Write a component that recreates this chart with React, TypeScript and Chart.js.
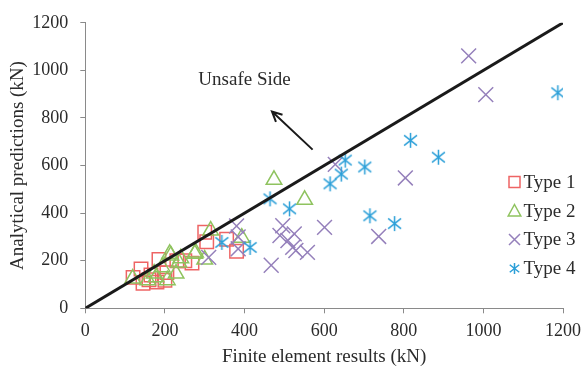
import React, { useEffect, useRef } from 'react';
import { Chart, registerables } from 'chart.js';

Chart.register(...registerables);

// ---- data ----
const TYPE1_X = [120, 140, 145, 160, 165, 180, 185, 200, 205, 230, 250, 268, 300, 305, 355, 380];
const TYPE1_Y = [130, 165, 105, 120, 140, 110, 205, 118, 150, 200, 200, 190, 320, 280, 290, 240];

const TYPE2_X = [119, 157, 173, 178, 193, 206, 212, 215, 228, 235, 240, 275, 277, 300, 315, 393, 474, 551];
const TYPE2_Y = [125, 118, 146, 130, 173, 118, 229, 222, 146, 192, 210, 229, 235, 205, 327, 297, 540, 456];

const TYPE3_X = [310, 380, 384, 384, 467, 489, 496, 509, 521, 525, 529, 558, 601, 628, 737, 804, 963, 1006];
const TYPE3_Y = [214, 346, 300, 250, 181, 306, 347, 285, 256, 313, 243, 235, 340, 605, 302, 548, 1061, 898];

const TYPE4_X = [343, 414, 464, 513, 615, 643, 653, 702, 715, 777, 817, 887, 1187];
const TYPE4_Y = [277, 256, 460, 418, 523, 564, 623, 594, 389, 356, 706, 635, 906];

const SERIES_NAMES = ['Type 1', 'Type 2', 'Type 3', 'Type 4'];
const LINE_X = [0, 1200];
const LINE_Y = [0, 1200];
const AXIS_MIN = 0;
const AXIS_MAX = 1200;
const AXIS_STEP = 200;

const X_TITLE = 'Finite element results (kN)';
const Y_TITLE = 'Analytical predictions (kN)';
const NOTE_TEXT = 'Unsafe Side';
const NOTE_POS = [400, 961];
const ARROW_FROM = [571, 667];
const ARROW_TO = [469, 827];

// ---- styles ----
const FONT = "'Liberation Serif', 'Times New Roman', serif";
const TEXT_COLOR = '#2b2b2b';
const AXIS_COLOR = '#8a8a8a';
const C1 = '#ee6464';
const C2 = '#8fc35f';
const C3 = '#9580bb';
const C4 = '#2b9fd8';

function makeAsterisk(size: number, color: string): HTMLCanvasElement {
  const c = document.createElement('canvas');
  c.width = size;
  c.height = size;
  const g = c.getContext('2d')!;
  const m = size / 2;
  const r = size / 2 - 1;
  g.strokeStyle = color;
  g.lineWidth = 1.5;
  g.beginPath();
  g.moveTo(m, m - r);
  g.lineTo(m, m + r);
  const dx = r * 0.86;
  const dy = r * 0.68;
  g.moveTo(m - dx, m - dy);
  g.lineTo(m + dx, m + dy);
  g.moveTo(m - dx, m + dy);
  g.lineTo(m + dx, m - dy);
  g.stroke();
  return c;
}

const toPts = (xs: number[], ys: number[]) => xs.map((x, i) => ({ x, y: ys[i] }));

export default function App() {
  const ref = useRef<HTMLCanvasElement | null>(null);

  useEffect(() => {
    if (!ref.current) return;
    const star = makeAsterisk(17, C4);
    const starSmall = makeAsterisk(13, C4);

    const overlay = {
      id: 'overlay',
      afterDatasetsDraw(chart: any) {
        const { ctx, scales, chartArea } = chart;
        const xs = scales.x;
        const ys = scales.y;
        ctx.save();
        // annotation text
        ctx.font = `19px ${FONT}`;
        ctx.fillStyle = TEXT_COLOR;
        ctx.textAlign = 'center';
        ctx.textBaseline = 'middle';
        ctx.fillText(NOTE_TEXT, xs.getPixelForValue(NOTE_POS[0]), ys.getPixelForValue(NOTE_POS[1]));
        // arrow
        const x0 = xs.getPixelForValue(ARROW_FROM[0]);
        const y0 = ys.getPixelForValue(ARROW_FROM[1]);
        const x1 = xs.getPixelForValue(ARROW_TO[0]);
        const y1 = ys.getPixelForValue(ARROW_TO[1]);
        ctx.strokeStyle = '#1a1a1a';
        ctx.lineWidth = 2;
        ctx.beginPath();
        ctx.moveTo(x0, y0);
        ctx.lineTo(x1, y1);
        const ang = Math.atan2(y1 - y0, x1 - x0);
        const hl = 11;
        const ha = 0.45;
        ctx.moveTo(x1 - hl * Math.cos(ang - ha), y1 - hl * Math.sin(ang - ha));
        ctx.lineTo(x1, y1);
        ctx.lineTo(x1 - hl * Math.cos(ang + ha), y1 - hl * Math.sin(ang + ha));
        ctx.stroke();

        // legend
        const sx = chartArea.right - 48.5;
        const tx = chartArea.right - 39.5;
        const rows = [182, 211, 239.5, 268.5];
        ctx.font = `19px ${FONT}`;
        ctx.textAlign = 'left';
        ctx.textBaseline = 'middle';
        ctx.lineWidth = 1.5;
        SERIES_NAMES.forEach((name, i) => {
          const yy = rows[i];
          ctx.beginPath();
          if (i === 0) {
            ctx.strokeStyle = C1;
            ctx.rect(sx - 5.5, yy - 5.5, 11, 11);
            ctx.stroke();
          } else if (i === 1) {
            ctx.strokeStyle = C2;
            ctx.moveTo(sx, yy - 6.5);
            ctx.lineTo(sx + 6.3, yy + 5);
            ctx.lineTo(sx - 6.3, yy + 5);
            ctx.closePath();
            ctx.stroke();
          } else if (i === 2) {
            ctx.strokeStyle = C3;
            ctx.moveTo(sx - 5.5, yy - 5.5);
            ctx.lineTo(sx + 5.5, yy + 5.5);
            ctx.moveTo(sx - 5.5, yy + 5.5);
            ctx.lineTo(sx + 5.5, yy - 5.5);
            ctx.stroke();
          } else {
            ctx.drawImage(starSmall, sx - 6.5, yy - 6.5);
          }
          ctx.fillStyle = TEXT_COLOR;
          ctx.fillText(name, tx, yy + 1);
        });
        ctx.restore();
      },
    };

    const axisCommon = {
      type: 'linear' as const,
      min: AXIS_MIN,
      max: AXIS_MAX,
      grid: {
        display: true,
        drawOnChartArea: false,
        drawTicks: true,
        tickLength: 5,
        color: AXIS_COLOR,
        lineWidth: 1,
      },
      border: { display: true, color: AXIS_COLOR, width: 1 },
    };
    const plainTick = (v: any) => String(v);

    const chart = new Chart(ref.current, {
      type: 'scatter',
      data: {
        datasets: [
          {
            type: 'line',
            label: 'line',
            data: toPts(LINE_X, LINE_Y),
            borderColor: '#1a1a1a',
            borderWidth: 3,
            pointRadius: 0,
            order: 0,
            showLine: true,
          } as any,
          {
            label: SERIES_NAMES[3],
            data: toPts(TYPE4_X, TYPE4_Y),
            pointStyle: star as any,
            pointRadius: 8,
            borderColor: C4,
            backgroundColor: 'transparent',
            order: 1,
          },
          {
            label: SERIES_NAMES[2],
            data: toPts(TYPE3_X, TYPE3_Y),
            pointStyle: 'crossRot',
            pointRadius: 10.5,
            pointBorderWidth: 1.5,
            borderColor: C3,
            backgroundColor: 'transparent',
            order: 2,
          },
          {
            label: SERIES_NAMES[1],
            data: toPts(TYPE2_X, TYPE2_Y),
            pointStyle: 'triangle',
            pointRadius: 9,
            pointBorderWidth: 1.5,
            borderColor: C2,
            backgroundColor: 'transparent',
            order: 3,
          },
          {
            label: SERIES_NAMES[0],
            data: toPts(TYPE1_X, TYPE1_Y),
            pointStyle: 'rect',
            pointRadius: 9.5,
            pointBorderWidth: 1.5,
            borderColor: C1,
            backgroundColor: 'transparent',
            order: 4,
          },
        ],
      },
      options: {
        responsive: false,
        animation: false,
        events: [],
        layout: { padding: { top: 20.7, right: 19.7, left: 0, bottom: 0 } },
        plugins: {
          legend: { display: false },
          tooltip: { enabled: false },
        },
        scales: {
          x: {
            ...axisCommon,
            position: 'bottom',
            ticks: {
              stepSize: AXIS_STEP,
              padding: 7,
              color: TEXT_COLOR,
              font: { family: FONT, size: 18 },
              maxRotation: 0,
              callback: plainTick,
            },
            title: {
              display: true,
              text: X_TITLE,
              color: TEXT_COLOR,
              font: { family: FONT, size: 19, lineHeight: 1 },
              padding: { top: 0, bottom: 0 },
            },
            afterFit: (s: any) => {
              s.height = 58.7;
            },
          },
          y: {
            ...axisCommon,
            position: 'left',
            ticks: {
              stepSize: AXIS_STEP,
              padding: 12,
              color: TEXT_COLOR,
              font: { family: FONT, size: 18 },
              callback: plainTick,
            },
            title: {
              display: true,
              text: Y_TITLE,
              color: TEXT_COLOR,
              font: { family: FONT, size: 19, lineHeight: 1 },
              padding: { top: 9, bottom: 0 },
            },
            afterFit: (s: any) => {
              s.width = 85.3;
            },
          },
        },
      },
      plugins: [overlay],
    });
    return () => chart.destroy();
  }, []);

  return (
    <div style={{ position: 'fixed', left: 0, top: 0, width: 588, height: 367, background: '#fff' }}>
      <canvas ref={ref} width={588} height={367} style={{ display: 'block' }} />
    </div>
  );
}
